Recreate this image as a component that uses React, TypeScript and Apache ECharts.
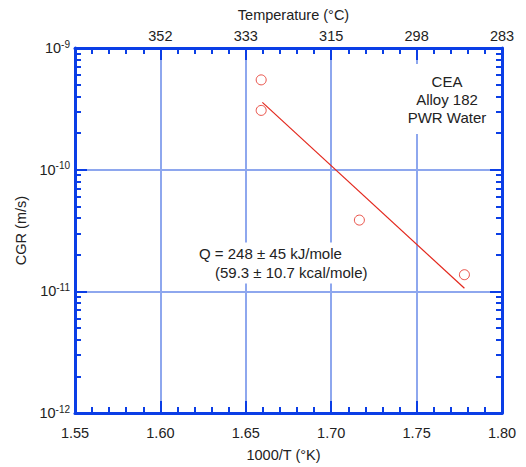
import React, { useEffect, useRef } from "react";
import * as echarts from "echarts";

// ---- data ----
const invT = [1.659, 1.659, 1.7165, 1.778]; // 1000/T (1/K)
const cgr = [5.47e-10, 3.07e-10, 3.85e-11, 1.37e-11]; // m/s
const fitX = [1.6597, 1.778];
const fitY = [3.57e-10, 1.06e-11];
const topTickValues = [1.6, 1.65, 1.7, 1.75, 1.8];
const topTickLabels = ["352", "333", "315", "298", "283"];
const decades = [1e-12, 1e-11, 1e-10];
const minorMultipliers = [2, 3, 4, 5, 6, 7, 8, 9];
const noteLines = ["CEA", "Alloy 182", "PWR Water"];
const qLine1 = "Q = 248 \u00b1 45 kJ/mole";
const qLine2 = "(59.3 \u00b1 10.7 kcal/mole)";

const FONT = "Liberation Sans, Arial, sans-serif";
const AXIS = "#0b3ee6";
const GRID = "#8ea7ee";
const RED = "#e3271c";
const TXT = "#222";

const yMinorValues: number[] = [];
decades.forEach((d) => minorMultipliers.forEach((m) => yMinorValues.push(m * d)));

export default function App() {
  const ref = useRef<HTMLDivElement>(null);
  useEffect(() => {
    document.body.style.margin = "0";
    const chart = echarts.init(ref.current!, null, { renderer: "svg" });
    const yLabelFmt = (v: number) => {
      const e = Math.round(Math.log10(v));
      return `{b|10}{s|${e}}`;
    };
    const yRich = {
      b: { fontSize: 14.5, fontFamily: FONT, color: TXT },
      s: { fontSize: 10, fontFamily: FONT, color: TXT, verticalAlign: "top", padding: [0, 0, 8, 0] },
    };
    const lineStyle = { color: AXIS, width: 3 };
    const yBase = { type: "log", logBase: 10, min: 1e-12, max: 1e-9 };
    const xBase = { type: "value", min: 1.55, max: 1.8, interval: 0.05 };
    const option: any = {
      animation: false,
      grid: { left: 75, right: 24, top: 48, bottom: 52 },
      xAxis: [
        {
          ...xBase,
          position: "bottom",
          name: "1000/T (\u00b0K)",
          nameLocation: "middle",
          nameGap: 34,
          nameTextStyle: { fontSize: 14.5, fontFamily: FONT, color: TXT, padding: [0, 10, 0, 0] },
          axisLine: { show: true, lineStyle },
          axisTick: { show: true, inside: true, length: 12, lineStyle: { color: AXIS, width: 2 } },
          minorTick: { show: true, splitNumber: 5, length: 6, lineStyle: { color: AXIS, width: 2 } },
          axisLabel: { fontSize: 14.5, fontFamily: FONT, color: TXT, margin: 12, formatter: (v: number) => v.toFixed(2) },
          splitLine: { show: true, lineStyle: { color: GRID, width: 2 } },
        },
        {
          ...xBase,
          position: "top",
          name: "Temperature (\u00b0C)",
          nameLocation: "middle",
          nameGap: 26,
          nameTextStyle: { fontSize: 14.5, fontFamily: FONT, color: TXT, padding: [0, 0, 0, 10] },
          axisLine: { show: true, lineStyle },
          axisTick: { show: true, inside: true, length: 12, lineStyle: { color: AXIS, width: 2 } },
          minorTick: { show: true, splitNumber: 5, length: 6, lineStyle: { color: AXIS, width: 2 } },
          axisLabel: {
            fontSize: 14.5,
            fontFamily: FONT,
            color: TXT,
            margin: 5,
            formatter: (v: number) => {
              const i = topTickValues.findIndex((t) => Math.abs(t - v) < 1e-6);
              return i >= 0 ? topTickLabels[i] : "";
            },
          },
          splitLine: { show: false },
        },
      ],
      yAxis: [
        {
          ...yBase,
          position: "left",
          name: "CGR (m/s)",
          nameLocation: "middle",
          nameGap: 47,
          nameTextStyle: { fontSize: 14.5, fontFamily: FONT, color: TXT },
          axisLine: { show: true, lineStyle },
          axisTick: { show: true, inside: true, length: 12, lineStyle: { color: AXIS, width: 2 } },
          axisLabel: { margin: 5, formatter: yLabelFmt, rich: yRich },
          splitLine: { show: true, lineStyle: { color: GRID, width: 2 } },
        },
        {
          ...yBase,
          position: "left",
          offset: 0,
          axisLine: { show: false },
          axisTick: { show: true, inside: true, length: 6, customValues: yMinorValues, lineStyle: { color: AXIS, width: 2 } },
          axisLabel: { show: false },
          splitLine: { show: false },
        },
        {
          ...yBase,
          position: "right",
          offset: 0,
          axisLine: { show: true, lineStyle },
          axisTick: { show: true, inside: true, length: 12, lineStyle: { color: AXIS, width: 2 } },
          axisLabel: { show: false },
          splitLine: { show: false },
        },
        {
          ...yBase,
          position: "right",
          offset: 0,
          axisLine: { show: false },
          axisTick: { show: true, inside: true, length: 6, customValues: yMinorValues, lineStyle: { color: AXIS, width: 2 } },
          axisLabel: { show: false },
          splitLine: { show: false },
        },
      ],
      series: [
        {
          type: "line",
          data: fitX.map((x, i) => [x, fitY[i]]),
          showSymbol: false,
          symbol: "none",
          lineStyle: { color: RED, width: 1.2 },
          z: 3,
        },
        {
          type: "scatter",
          data: invT.map((x, i) => [x, cgr[i]]),
          symbol: "circle",
          symbolSize: 10,
          itemStyle: { color: "rgba(0,0,0,0)", borderColor: RED, borderWidth: 1 },
          z: 4,
        },
      ],
      graphic: [
        {
          type: "text",
          x: 447,
          y: 99,
          z: 10,
          style: {
            text: noteLines.join("\n"),
            font: `15px ${FONT}`,
            fill: TXT,
            align: "center",
            verticalAlign: "middle",
            lineHeight: 18,
            backgroundColor: "#fff",
            padding: [8, 2, 8, 2],
          },
        },
        {
          type: "text",
          x: 197,
          y: 253,
          z: 10,
          style: {
            text: qLine1,
            font: `15px ${FONT}`,
            fill: TXT,
            align: "left",
            verticalAlign: "middle",
            backgroundColor: "#fff",
            padding: [4, 2, 2, 2],
          },
        },
        {
          type: "text",
          x: 213,
          y: 272,
          z: 10,
          style: {
            text: qLine2,
            font: `15px ${FONT}`,
            fill: TXT,
            align: "left",
            verticalAlign: "middle",
            backgroundColor: "#fff",
            padding: [2, 2, 6, 2],
          },
        },
      ],
    };
    chart.setOption(option);
    return () => chart.dispose();
  }, []);
  return <div ref={ref} style={{ width: 526, height: 467 }} />;
}
